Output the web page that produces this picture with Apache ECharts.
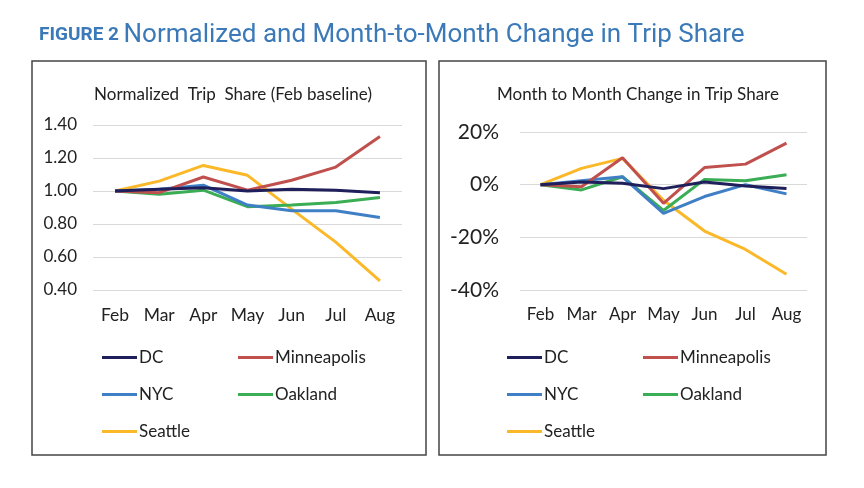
<!DOCTYPE html>
<html><head><meta charset="utf-8">
<script src="https://cdn.jsdelivr.net/npm/echarts@6/dist/echarts.min.js"></script>
<style>html,body{margin:0;padding:0;background:#fff}#c{width:864px;height:488px}</style>
</head><body><div id="c"></div>
<script>
const months = ['Feb','Mar','Apr','May','Jun','Jul','Aug'];
const cities = ['DC','Minneapolis','NYC','Oakland','Seattle'];
const colors = ['#1f1f5c','#c0504d','#3f7fc6','#3aad55','#fbb829'];
// Normalized trip share (Feb baseline)
const normDC = [1.00,1.01,1.02,1.00,1.01,1.005,0.99];
const normMinneapolis = [1.00,0.99,1.085,1.005,1.065,1.145,1.33];
const normNYC = [1.00,1.01,1.035,0.915,0.88,0.88,0.84];
const normOakland = [1.00,0.98,1.005,0.905,0.915,0.93,0.96];
const normSeattle = [1.00,1.06,1.155,1.095,0.89,0.69,0.455];
// Month-to-month change (%)
const chgDC = [0,1,0.5,-1.5,1,-0.5,-1.5];
const chgMinneapolis = [0,-0.8,10.2,-7.1,6.5,7.8,15.8];
const chgNYC = [0,1.5,3,-10.9,-4.5,0,-3.5];
const chgOakland = [0,-2,3,-9.8,2,1.5,3.8];
const chgSeattle = [0,6.2,10,-5.9,-17.6,-24.6,-34];
const leftTicks = {min:0.4,max:1.4,interval:0.2};
const rightTicks = {min:-40,max:20,interval:20};

const normData = [normDC,normMinneapolis,normNYC,normOakland,normSeattle];
const chgData = [chgDC,chgMinneapolis,chgNYC,chgOakland,chgSeattle];
const FONT = 'Lato, "Open Sans", sans-serif';

const chart = echarts.init(document.getElementById('c'));
const series = [];
cities.forEach((c,i)=>{
  series.push({name:c,type:'line',xAxisIndex:0,yAxisIndex:0,data:normData[i],symbol:'none',
    lineStyle:{width:3,color:colors[i]},itemStyle:{color:colors[i]},z:10-i});
  series.push({name:c,type:'line',xAxisIndex:1,yAxisIndex:1,data:chgData[i],symbol:'none',
    lineStyle:{width:3,color:colors[i]},itemStyle:{color:colors[i]},z:10-i});
});
function legend(left, top, data){
  return {left:left, top:top, orient:'vertical', data:data, icon:'rect', itemWidth:35, itemHeight:3,
    itemGap:20, selectedMode:false, textStyle:{fontFamily:FONT,fontSize:17,color:'#222',padding:[0,0,0,-3]}};
}
function xAxis(idx, size){
  return {gridIndex:idx,type:'category',data:months,boundaryGap:true,axisLine:{show:false},axisTick:{show:false},
    axisLabel:{interval:0,hideOverlap:false,fontFamily:FONT,fontSize:size,color:'#222',margin:16}};
}
chart.setOption({
  animation:false,
  textStyle:{fontFamily:FONT},
  title:[
    {text:'{a|FIGURE 2} {b|Normalized and Month-to-Month Change in Trip Share}',left:34,top:17,
      textStyle:{fontWeight:'normal',rich:{a:{fontFamily:'Roboto, sans-serif',fontWeight:'bold',fontSize:19,color:'#3b79b8'},
        b:{fontFamily:'Roboto, sans-serif',fontWeight:'normal',fontSize:26,color:'#3b79b8'}}}},
    {text:'Normalized  Trip  Share (Feb baseline)',left:228,top:81,textAlign:'center',
      textStyle:{fontFamily:FONT,fontSize:17,fontWeight:'normal',color:'#222'}},
    {text:'Month to Month Change in Trip Share',left:633,top:81,textAlign:'center',
      textStyle:{fontFamily:FONT,fontSize:17,fontWeight:'normal',color:'#222'}}
  ],
  graphic:[
    {type:'rect',shape:{x:32,y:61,width:394,height:394},style:{fill:'none',stroke:'#444',lineWidth:1.5}},
    {type:'rect',shape:{x:439,y:61,width:387,height:394},style:{fill:'none',stroke:'#444',lineWidth:1.5}}
  ],
  legend:[
    legend(97,344,['DC','NYC','Seattle']),
    legend(233,344,['Minneapolis','Oakland']),
    legend(502,344,['DC','NYC','Seattle']),
    legend(638,344,['Minneapolis','Oakland'])
  ],
  grid:[
    {left:93,right:462,top:125,bottom:198},
    {left:520,right:57,top:132,bottom:198}
  ],
  xAxis:[xAxis(0,17.5),xAxis(1,17)],
  yAxis:[
    {type:'value',gridIndex:0,min:leftTicks.min,max:leftTicks.max,interval:leftTicks.interval,
      axisLine:{show:false},axisTick:{show:false},splitLine:{lineStyle:{color:'#d9d9d9',width:1}},
      axisLabel:{fontFamily:FONT,fontSize:17,color:'#222',margin:16,formatter:v=>v.toFixed(2)}},
    {type:'value',gridIndex:1,min:rightTicks.min,max:rightTicks.max,interval:rightTicks.interval,
      axisLine:{show:false},axisTick:{show:false},splitLine:{lineStyle:{color:'#d9d9d9',width:1}},
      axisLabel:{fontFamily:FONT,fontSize:21,color:'#222',margin:21,formatter:v=>v+'%'}}
  ],
  series:series
});
</script></body></html>
